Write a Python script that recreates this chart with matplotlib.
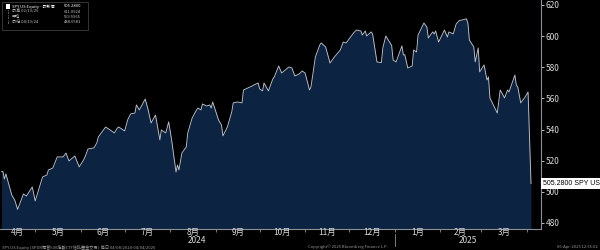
import matplotlib
matplotlib.use("Agg")
import matplotlib.pyplot as plt
import matplotlib.transforms as mtransforms
from matplotlib.patches import Rectangle
from matplotlib.lines import Line2D
import pandas as pd

plt.rcParams['font.family'] = ['Noto Sans CJK TC', 'DejaVu Sans']

# SPY US Equity daily close
dates = [
    "2024-04-08", "2024-04-09", "2024-04-10", "2024-04-11", "2024-04-15", "2024-04-17",
    "2024-04-19", "2024-04-23", "2024-04-25", "2024-04-29", "2024-05-01", "2024-05-06",
    "2024-05-09", "2024-05-10", "2024-05-13", "2024-05-16", "2024-05-20", "2024-05-22",
    "2024-05-24", "2024-05-28", "2024-05-31", "2024-06-03", "2024-06-04", "2024-06-06",
    "2024-06-10", "2024-06-12", "2024-06-13", "2024-06-14", "2024-06-18", "2024-06-20",
    "2024-06-24", "2024-06-26", "2024-06-27", "2024-07-01", "2024-07-03", "2024-07-05",
    "2024-07-08", "2024-07-09", "2024-07-11", "2024-07-15", "2024-07-17", "2024-07-19",
    "2024-07-22", "2024-07-25", "2024-07-26", "2024-07-29", "2024-07-31", "2024-08-02",
    "2024-08-05", "2024-08-06", "2024-08-07", "2024-08-09", "2024-08-12", "2024-08-13",
    "2024-08-16", "2024-08-19", "2024-08-20", "2024-08-22", "2024-08-23", "2024-08-26",
    "2024-08-28", "2024-08-29", "2024-08-30", "2024-09-03", "2024-09-05", "2024-09-06",
    "2024-09-09", "2024-09-12", "2024-09-13", "2024-09-16", "2024-09-19", "2024-09-20",
    "2024-09-23", "2024-09-26", "2024-09-27", "2024-09-30", "2024-10-01", "2024-10-03",
    "2024-10-04", "2024-10-07", "2024-10-10", "2024-10-11", "2024-10-14", "2024-10-16",
    "2024-10-21", "2024-10-23", "2024-10-25", "2024-10-28", "2024-10-30", "2024-11-01",
    "2024-11-04", "2024-11-05", "2024-11-08", "2024-11-11", "2024-11-12", "2024-11-15",
    "2024-11-18", "2024-11-21", "2024-11-25", "2024-11-27", "2024-11-29", "2024-12-02",
    "2024-12-04", "2024-12-06", "2024-12-09", "2024-12-10", "2024-12-12", "2024-12-13",
    "2024-12-16", "2024-12-17", "2024-12-20", "2024-12-23", "2024-12-24", "2024-12-26",
    "2024-12-30", "2024-12-31", "2025-01-02", "2025-01-06", "2025-01-07", "2025-01-08",
    "2025-01-10", "2025-01-13", "2025-01-14", "2025-01-16", "2025-01-17", "2025-01-21",
    "2025-01-23", "2025-01-24", "2025-01-27", "2025-01-28", "2025-01-29", "2025-01-31",
    "2025-02-04", "2025-02-06", "2025-02-07", "2025-02-10", "2025-02-12", "2025-02-14",
    "2025-02-19", "2025-02-20", "2025-02-21", "2025-02-24", "2025-02-25", "2025-02-27",
    "2025-02-28", "2025-03-03", "2025-03-05", "2025-03-06", "2025-03-07", "2025-03-10",
    "2025-03-12", "2025-03-14", "2025-03-17", "2025-03-19", "2025-03-20", "2025-03-24",
    "2025-03-25", "2025-03-26", "2025-03-28", "2025-03-31", "2025-04-02", "2025-04-03",
    "2025-04-04",
]
close = [
    512.9, 513.0, 508.2, 511.5, 498.0, 494.8,
    488.7, 498.6, 497.3, 503.1, 494.1, 509.5,
    510.8, 514.0, 515.3, 522.4, 522.4, 524.9,
    519.8, 523.0, 516.0, 520.5, 522.4, 527.5,
    528.2, 531.4, 535.2, 536.5, 541.6, 540.4,
    537.8, 541.0, 541.6, 539.1, 546.1, 550.0,
    550.6, 555.8, 552.6, 559.6, 552.6, 544.2,
    549.3, 533.3, 539.7, 537.8, 544.9, 533.3,
    512.7, 517.2, 514.0, 524.9, 528.8, 537.8,
    547.4, 552.6, 553.8, 552.6, 556.4, 555.1,
    555.8, 553.8, 557.7, 546.1, 542.9, 535.9,
    541.6, 551.3, 557.1, 557.7, 557.1, 565.4,
    566.7, 568.0, 568.6, 569.9, 566.1, 564.8,
    569.9, 564.8, 572.5, 573.8, 580.8, 576.3,
    580.2, 579.5, 574.4, 575.7, 577.6, 576.3,
    565.4, 567.3, 586.6, 594.3, 595.6, 593.0,
    582.7, 586.6, 591.1, 596.2, 595.6, 599.4,
    602.0, 603.9, 603.3, 600.7, 603.3, 600.1,
    602.7, 601.4, 583.4, 583.0, 592.4, 600.1,
    594.0, 584.7, 583.4, 593.7, 587.9, 588.0,
    579.5, 580.8, 591.1, 589.8, 600.7, 608.4,
    605.9, 598.8, 602.7, 601.4, 603.3, 596.2,
    603.9, 599.4, 602.7, 601.4, 607.8, 609.9,
    611.09, 608.2, 597.5, 593.0, 583.4, 592.4,
    577.0, 581.5, 571.8, 573.8, 560.3, 554.5,
    550.6, 565.4, 560.3, 565.4, 564.1, 575.0,
    568.6, 567.3, 557.1, 560.9, 564.1, 535.5,
    505.28,
]

month_labels = ["4月", "5月", "6月", "7月", "8月", "9月", "10月", "11月", "12月", "1月", "2月", "3月"]
year_labels = ["2024", "2025"]
y_ticks = [480, 500, 520, 540, 560, 580, 600, 620]

legend_rows = [
    ("SPY US Equity - 最新價", "505.2800"),
    ("最高 02/19/25", "611.0924"),
    ("平均", "559.5965"),
    ("最低 04/19/24", "488.6581"),
]

fill_color = "#0c2442"
line_color = "#bcc2cc"
text_color = "#d8d8d8"
axis_color = "#8c9099"

x = pd.to_datetime(dates)
x_start = pd.Timestamp("2024-04-07")
x_end = pd.Timestamp("2025-04-10 20:00")

fig = plt.figure(figsize=(6, 2.5), dpi=100, facecolor="black")
ax = fig.add_axes([0, 0.084, 0.9017, 0.916])
ax.set_facecolor("black")
ax.set_xlim(x_start, x_end)
ax.set_ylim(476.1, 623.2)

ax.fill_between(x, close, ax.get_ylim()[0], color=fill_color, lw=0)
ax.plot(x, close, color=line_color, lw=0.65)

# right price axis
ax.yaxis.tick_right()
ax.set_yticks(y_ticks)
ax.tick_params(axis="y", colors=text_color, labelsize=6, length=2, width=0.6, pad=1.5)
for s in ["top", "left"]:
    ax.spines[s].set_visible(False)
for s in ["right", "bottom"]:
    ax.spines[s].set_color(axis_color)
    ax.spines[s].set_linewidth(0.8)

# month ticks on the boundaries, labels in the middle of each month
month_starts = pd.date_range("2024-04-01", "2025-04-01", freq="MS")
ax.set_xticks([m for m in month_starts if x_start < m < x_end])
ax.set_xticklabels([])
ax.tick_params(axis="x", colors=axis_color, length=2, width=0.6)

trans = mtransforms.blended_transform_factory(ax.transData, ax.transAxes)
for i, lab in enumerate(month_labels):
    a = max(month_starts[i], x_start)
    b = min(month_starts[i + 1], x_end)
    ax.text(a + (b - a) / 2, -0.016, lab, transform=trans, ha="center", va="center",
            color=text_color, fontsize=6)

jan1 = pd.Timestamp("2025-01-01")
ax.text(x_start + (jan1 - x_start) / 2, -0.052, year_labels[0], transform=trans,
        ha="center", va="center", color=text_color, fontsize=6)
ax.text(jan1 + (x_end - jan1) / 2, -0.052, year_labels[1], transform=trans,
        ha="center", va="center", color=text_color, fontsize=6)
ax.add_line(Line2D([jan1, jan1], [-0.02, -0.075], transform=trans, color=axis_color,
                   lw=0.6, clip_on=False))

# last price tag
tag_trans = mtransforms.blended_transform_factory(ax.transAxes, ax.transData)
ax.text(1.004, close[-1], "%.4f SPY US" % close[-1], transform=tag_trans, ha="left",
        va="center", color="black", fontsize=5.0, family="Liberation Sans",
        bbox=dict(boxstyle="square,pad=0.25", fc="white", ec="none"), clip_on=False)

# legend box in the top-left corner
def fx(px):
    return px / 600


def fy(py):
    return 1 - py / 250


fig.patches.append(Rectangle((fx(2), fy(30)), fx(86), 28 / 250, transform=fig.transFigure,
                             fc="black", ec="#4a4a4a", lw=0.5, zorder=5))
fig.patches.append(Rectangle((fx(5.5), fy(8.5)), fx(4), 4 / 250, transform=fig.transFigure,
                             fc="white", ec="none", zorder=6))
row_y = [6.3, 11.7, 16.8, 22.0]
for i, (lab, val) in enumerate(legend_rows):
    col = "white" if i == 0 else "#bfbfbf"
    fig.text(fx(12), fy(row_y[i]), lab, color=col, fontsize=3.0, va="center", ha="left", zorder=7)
    fig.text(fx(81), fy(row_y[i]), val, color=col, fontsize=3.0, va="center", ha="right", zorder=7)
    if i > 0:
        fig.lines.append(Line2D([fx(7.5), fx(7.5)], [fy(row_y[i] - 2.2), fy(row_y[i] + 2.2)],
                                transform=fig.transFigure, color="#bfbfbf", lw=0.5,
                                ls=(0, (1, 1)), zorder=7))

# footer
fig.text(fx(2), fy(247), "SPY US Equity (SPDR標普500指數ETF信託基金交易)  每日 04/08/2024-04/04/2025",
         color="#9a9a9a", fontsize=3.0, va="center", ha="left")
fig.text(fx(348), fy(247), "Copyright© 2025 Bloomberg Finance L.P.", color="#9a9a9a",
         fontsize=3.0, va="center", ha="center")
fig.text(fx(598), fy(247), "06-Apr-2025 12:55:02", color="#9a9a9a", fontsize=3.0,
         va="center", ha="right")

fig.savefig("out.png", dpi=100, facecolor="black")
